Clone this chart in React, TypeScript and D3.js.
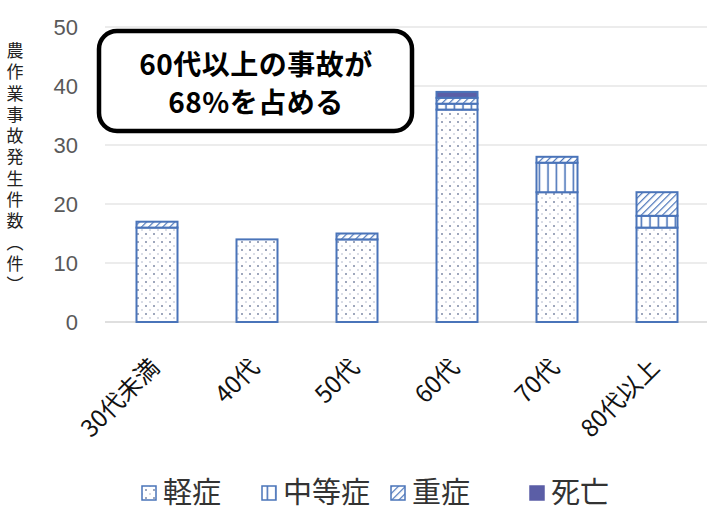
import React from "react";
import * as d3 from "d3";

const categories = ["30代未満", "40代", "50代", "60代", "70代", "80代以上"];
const mild = [16, 14, 14, 36, 22, 16];
const moderate = [0, 0, 0, 1, 5, 2];
const severe = [1, 0, 1, 1, 1, 4];
const death = [0, 0, 0, 1, 0, 0];
const seriesNames = ["軽症", "中等症", "重症", "死亡"];
const yTicks = [0, 10, 20, 30, 40, 50];
const yTitle = "農作業事故発生件数（件）";
const noteLines = ["60代以上の事故が", "68%を占める"];

const W = 707, H = 510;
const FONT = "'Noto Sans CJK JP', 'Noto Sans', sans-serif";
const BLUE = "#4a74b9";

export default function App() {
  const x = d3.scaleBand<string>().domain(categories).range([107, 707]).paddingInner(0.59).paddingOuter(0.295);
  const y = d3.scaleLinear().domain([0, 50]).range([322, 27]);
  const rows = categories.map((c, i) => ({ cat: c, 軽症: mild[i], 中等症: moderate[i], 重症: severe[i], 死亡: death[i] }));
  const stack = d3.stack<any>().keys(seriesNames)(rows);
  const fills = ["url(#pDots)", "url(#pVert)", "url(#pDiag)", "#5b5ea6"];
  const legendX = [142, 262, 391, 530];

  return (
    <svg width={W} height={H} style={{ position: "absolute", left: 0, top: 0, background: "#fff" }}>
      <defs>
        <pattern id="pDots" width="8" height="8" patternUnits="userSpaceOnUse">
          <rect width="8" height="8" fill="#fff" />
          <circle cx="2" cy="2" r="1" fill="#7d8aa6" />
          <circle cx="6" cy="6" r="0.8" fill="#a9b3c8" />
        </pattern>
        <pattern id="pVert" width="8.5" height="8" patternUnits="userSpaceOnUse">
          <rect width="8.5" height="8" fill="#fff" />
          <line x1="4" y1="0" x2="4" y2="8" stroke={BLUE} strokeWidth="1.6" />
        </pattern>
        <pattern id="pDiag" width="5" height="5" patternUnits="userSpaceOnUse" patternTransform="rotate(45)">
          <rect width="5" height="5" fill="#fff" />
          <line x1="0" y1="0" x2="0" y2="5" stroke={BLUE} strokeWidth="2.4" />
        </pattern>
      </defs>

      {yTicks.map((t) => (
        <g key={t}>
          {t > 0 && <line x1={105} x2={707} y1={y(t)} y2={y(t)} stroke="#d9d9d9" strokeWidth={1.2} />}
          <text x={78} y={y(t)} dy="0.36em" textAnchor="end" fontSize={22} fill="#595959" fontFamily="'Liberation Sans', Arial, sans-serif">{t}</text>
        </g>
      ))}
      <line x1={105} x2={707} y1={y(0)} y2={y(0)} stroke="#bfbfbf" strokeWidth={1.2} />

      <text x={15} y={42} fontSize={17} fill="#222" fontFamily={FONT}
        style={{ writingMode: "vertical-rl" as any, letterSpacing: "4.3px" }}>{yTitle}</text>

      {stack.map((s, si) => (
        <g key={si}>
          {s.map((d, i) => d[1] - d[0] > 0 ? (
            <rect key={i} x={x(categories[i])} width={x.bandwidth()} y={y(d[1])} height={y(d[0]) - y(d[1])}
              fill={fills[si]} stroke={BLUE} strokeWidth={2} />
          ) : null)}
        </g>
      ))}

      {categories.map((c) => {
        const cx = (x(c) as number) + x.bandwidth() / 2 - 2;
        return (
          <text key={c} transform={`translate(${cx},${363}) rotate(-45)`} textAnchor="end" dy="0.35em" fontSize={24} fill="#111" fontFamily={FONT}>{c}</text>
        );
      })}

      <rect x={99} y={31} width={313} height={100} rx={18} fill="#fff" stroke="#000" strokeWidth={4.5} />
      {noteLines.map((l, i) => (
        <text key={i} x={256} y={75 + i * 38} textAnchor="middle" fontSize={28} fontWeight="bold" fill="#000" fontFamily={FONT} letterSpacing={0.5}>{l}</text>
      ))}

      {seriesNames.map((n, i) => (
        <g key={n}>
          <rect x={legendX[i]} y={486} width={14} height={14} fill={fills[i]} stroke={i === 3 ? "#5b5ea6" : BLUE} strokeWidth={1.5} />
          <text x={legendX[i] + 21} y={493} dy="0.36em" fontSize={29} fill="#333" fontFamily={FONT}>{n}</text>
        </g>
      ))}
    </svg>
  );
}
